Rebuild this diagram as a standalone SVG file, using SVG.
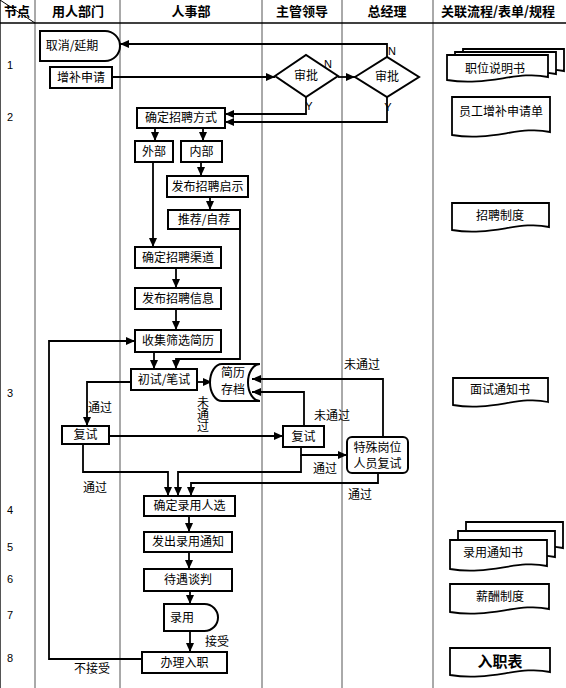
<svg xmlns="http://www.w3.org/2000/svg" width="566" height="688" viewBox="0 0 566 688">
<defs>
<marker id="ar" markerUnits="userSpaceOnUse" markerWidth="9" markerHeight="8" refX="9" refY="4" orient="auto">
<path d="M0,0 L9,4 L0,8 Z" fill="#000"/>
</marker>
<style>
.n{fill:#fff;stroke:#000;stroke-width:2}
.t{font-family:"Noto Sans CJK SC","Liberation Sans",sans-serif;font-size:12px;fill:#000;text-anchor:middle}
.h{font-weight:bold;font-size:13px}
.l{font-family:"Liberation Sans",sans-serif;font-size:11px;fill:#000;text-anchor:middle}
.c{fill:none;stroke:#000;stroke-width:1.8}
.a{marker-end:url(#ar)}
.lane{stroke:#555;stroke-width:1}
.doc{fill:#fff;stroke:#000;stroke-width:1.8}
</style>
</defs>
<rect width="566" height="688" fill="#fff"/>
<g id="lanes">
<line class="lane" x1="0.5" y1="0" x2="0.5" y2="688"/>
<line class="lane" x1="35" y1="0" x2="35" y2="688"/>
<line class="lane" x1="120" y1="0" x2="120" y2="688"/>
<line class="lane" x1="262" y1="0" x2="262" y2="688"/>
<line class="lane" x1="342" y1="0" x2="342" y2="688"/>
<line class="lane" x1="433" y1="0" x2="433" y2="688"/>
<line x1="0" y1="23" x2="566" y2="23" stroke="#000" stroke-width="1.5"/>
<line x1="0" y1="0" x2="35" y2="23" stroke="#000" stroke-width="1"/>
<text class="t h" x="17" y="16">节点</text>
<text class="t h" x="78" y="16">用人部门</text>
<text class="t h" x="191" y="16">人事部</text>
<text class="t h" x="302" y="16">主管领导</text>
<text class="t h" x="387" y="16">总经理</text>
<text class="t h" x="498" y="16">关联流程/表单/规程</text>
<text class="l" x="10" y="69">1</text>
<text class="l" x="10" y="121">2</text>
<text class="l" x="10" y="397">3</text>
<text class="l" x="10" y="514">4</text>
<text class="l" x="10" y="551">5</text>
<text class="l" x="10" y="583">6</text>
<text class="l" x="10" y="619">7</text>
<text class="l" x="10" y="662">8</text>
</g>
<g id="connectors">
<polyline class="c a" points="387,57 387,44 120,44"/>
<line class="c a" x1="112" y1="77" x2="275" y2="77"/>
<line class="c a" x1="338" y1="77" x2="355" y2="77"/>
<polyline class="c a" points="306,97 306,114 225,114"/>
<polyline class="c a" points="387,97 387,122 225,122"/>
<line class="c a" x1="155" y1="128" x2="155" y2="141"/>
<line class="c a" x1="203" y1="128" x2="203" y2="141"/>
<line class="c a" x1="201" y1="162" x2="201" y2="176"/>
<line class="c a" x1="210" y1="197" x2="210" y2="210"/>
<line class="c a" x1="153" y1="162" x2="153" y2="247"/>
<line class="c a" x1="176" y1="268" x2="176" y2="288"/>
<line class="c a" x1="176" y1="309" x2="176" y2="330"/>
<polyline class="c a" points="240,229 240,359 176,359 176,369"/>
<line class="c a" x1="154" y1="352" x2="154" y2="369"/>
<line class="c a" x1="197" y1="382" x2="212" y2="382"/>
<polyline class="c a" points="131,382 87,382 87,426"/>
<line class="c a" x1="109" y1="436" x2="283" y2="436"/>
<polyline class="c a" points="304,426 304,392 252,392"/>
<polyline class="c a" points="301,447 301,455 347,455"/>
<polyline class="c a" points="301,455 301,472 178,472 178,496"/>
<polyline class="c a" points="83,444 83,472 168,472 168,496"/>
<polyline class="c a" points="383,437 383,379 252,379"/>
<polyline class="c a" points="378,473 378,483 191,483 191,496"/>
<line class="c a" x1="189" y1="516" x2="189" y2="532"/>
<line class="c a" x1="189" y1="552" x2="189" y2="569"/>
<line class="c a" x1="190" y1="591" x2="190" y2="604"/>
<line class="c a" x1="190" y1="631" x2="190" y2="652"/>
<polyline class="c a" points="142,659 49,659 49,341 135,341"/>
<text class="l" x="392" y="55">N</text>
<text class="l" x="328" y="68">N</text>
<text class="l" x="309" y="110">Y</text>
<text class="l" x="388" y="111">Y</text>
<text class="t" x="100" y="412">通过</text>
<text x="203" y="396" writing-mode="vertical-rl" style="font-family:'Noto Sans CJK SC','Liberation Sans',sans-serif;font-size:12px;fill:#000;letter-spacing:0">未通过</text>
<text class="t" x="332" y="420">未通过</text>
<text class="t" x="325" y="473">通过</text>
<text class="t" x="95" y="492">通过</text>
<text class="t" x="362" y="369">未通过</text>
<text class="t" x="360" y="499">通过</text>
<text class="t" x="217" y="646">接受</text>
<text class="t" x="92" y="673">不接受</text>
</g>
<g id="n-cancel"><path class="n" d="M40,31 H105 A15,15 0 0 1 105,61 H40 Z"/><text class="t" x="72" y="50">取消/延期</text></g>
<g id="n-apply"><rect class="n" x="50" y="67" width="62" height="21"/><text class="t" x="81" y="82">增补申请</text></g>
<g id="n-approve1"><polygon class="n" points="275,76 306,55 338,76 306,97"/><text class="t" x="306" y="80">审批</text></g>
<g id="n-approve2"><polygon class="n" points="355,77 387,57 419,77 387,97"/><text class="t" x="387" y="81">审批</text></g>
<g id="n-method"><rect class="n" x="137" y="108" width="88" height="20"/><text class="t" x="181" y="122">确定招聘方式</text></g>
<g id="n-ext"><rect class="n" x="135" y="141" width="38" height="21"/><text class="t" x="154" y="156">外部</text></g>
<g id="n-int"><rect class="n" x="181" y="141" width="41" height="21"/><text class="t" x="201.5" y="156">内部</text></g>
<g id="n-notice"><rect class="n" x="167" y="176" width="81" height="21"/><text class="t" x="207.5" y="191">发布招聘启示</text></g>
<g id="n-recommend"><rect class="n" x="168" y="210" width="72" height="19"/><text class="t" x="204" y="224">推荐/自荐</text></g>
<g id="n-channel"><rect class="n" x="135" y="247" width="86" height="21"/><text class="t" x="178" y="262">确定招聘渠道</text></g>
<g id="n-publish"><rect class="n" x="135" y="288" width="86" height="21"/><text class="t" x="178" y="303">发布招聘信息</text></g>
<g id="n-collect"><rect class="n" x="135" y="330" width="86" height="22"/><text class="t" x="178" y="345">收集筛选简历</text></g>
<g id="n-first"><rect class="n" x="131" y="369" width="66" height="21"/><text class="t" x="164" y="384">初试/笔试</text></g>
<g id="n-archive"><path class="n" d="M222,364 H260 A12,18.5 0 0 0 260,401 H222 A12,18.5 0 0 1 222,364 Z"/><text class="t" x="233" y="377">简历</text><text class="t" x="233" y="394">存档</text></g>
<g id="n-retest1"><rect class="n" x="62" y="426" width="47" height="18"/><text class="t" x="85.5" y="439">复试</text></g>
<g id="n-retest2"><rect class="n" x="283" y="426" width="41" height="21"/><text class="t" x="303.5" y="441">复试</text></g>
<g id="n-special"><rect class="n" x="347" y="437" width="61" height="36" rx="5"/><text class="t" x="377.5" y="452">特殊岗位</text><text class="t" x="377.5" y="468">人员复试</text></g>
<g id="n-decide"><rect class="n" x="144" y="496" width="91" height="20"/><text class="t" x="189.5" y="510">确定录用人选</text></g>
<g id="n-offer"><rect class="n" x="144" y="532" width="88" height="20"/><text class="t" x="188" y="546">发出录用通知</text></g>
<g id="n-negotiate"><rect class="n" x="144" y="569" width="88" height="22"/><text class="t" x="188" y="584">待遇谈判</text></g>
<g id="n-hire"><path class="n" d="M164,604 H204.5 A13.5,13.5 0 0 1 204.5,631 H164 Z"/><text class="t" x="182" y="622">录用</text></g>
<g id="n-onboard"><rect class="n" x="142" y="652" width="85" height="21"/><text class="t" x="184.5" y="667">办理入职</text></g>
<g id="d-jobdesc">
<path class="doc" d="M463,49 H564 V71 C533.7,64 503.4,81 463,74 Z"/>
<path class="doc" d="M455,52 H556 V74 C525.7,67 495.4,84 455,77 Z"/>
<path class="doc" d="M447,55 H548 V77 C517.7,70 487.4,87 447,80 Z"/>
<text class="t" x="495" y="73">职位说明书</text>
</g>
<g id="d-applyform"><path class="doc" d="M452,97 H550 V132 C520.6,125 491.2,142 452,135 Z"/><text class="t" x="501" y="116">员工增补申请单</text></g>
<g id="d-recruitrule"><path class="doc" d="M452,203 H549 V227 C519.9,220 490.8,237 452,230 Z"/><text class="t" x="500" y="220">招聘制度</text></g>
<g id="d-interview"><path class="doc" d="M453,378 H548 V402 C519.5,395 491,412 453,405 Z"/><text class="t" x="500" y="394">面试通知书</text></g>
<g id="d-offerletter">
<path class="doc" d="M466,522 H563 V548 C533.9,541 504.8,558 466,551 Z"/>
<path class="doc" d="M458,531 H555 V557 C525.9,550 496.8,567 458,560 Z"/>
<path class="doc" d="M450,540 H547 V566 C517.9,559 488.8,576 450,569 Z"/>
<text class="t" x="493" y="557">录用通知书</text>
</g>
<g id="d-salary"><path class="doc" d="M450,584 H549 V609 C519.3,602 489.6,619 450,612 Z"/><text class="t" x="500" y="601">薪酬制度</text></g>
<g id="d-entryform"><path class="doc" d="M450,648 H550 V672 C520,665 490,682 450,675 Z"/><text class="t" x="500" y="667" style="font-weight:bold;font-size:15px">入职表</text></g>
</svg>
